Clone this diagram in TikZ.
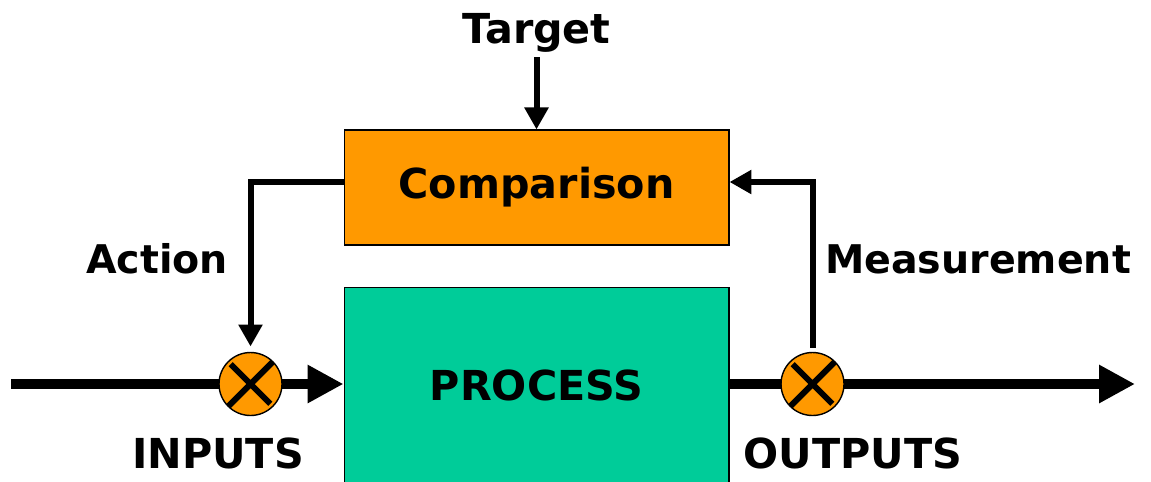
\documentclass[tikz,border=0pt]{standalone}
\usepackage{fontspec}
\setmainfont{DejaVu Sans}
\usetikzlibrary{arrows.meta}
\definecolor{cmporange}{HTML}{FF9900}
\definecolor{procgreen}{HTML}{00CC99}

\begin{document}
\begin{tikzpicture}[x=0.02cm,y=-0.02cm,
  lbl/.style={font=\fontsize{23.5}{28}\selectfont\bfseries,inner sep=0pt},
  sidelbl/.style={font=\fontsize{22.5}{27}\selectfont\bfseries,inner sep=0pt},
  blk/.style={draw,line width=0.6pt,minimum width=7.7cm,inner sep=0pt,lbl},
  sum/.style={circle,draw,line width=0.8pt,fill=cmporange,minimum size=1.26cm,inner sep=0pt,outer sep=0pt},
  thickflow/.style={line width=0.2cm},
  thinflow/.style={line width=0.12cm},
  bighead/.style={-{Triangle[length=0.72cm,width=0.72cm]}},
  smallhead/.style={-{Triangle[length=0.44cm,width=0.46cm]}}]
\useasboundingbox (0,0) rectangle (1151,481);
% blocks
\node [blk,fill=cmporange,minimum height=2.3cm] (cmp) at (536.5,187.5) {Comparison};
\node [blk,fill=procgreen,minimum height=3.92cm] (proc) at (536.5,385) {PROCESS};
% summing points
\node [sum] (sumin) at (250.5,384) {};
\node [sum] (sumout) at (812.5,384) {};
\foreach \s in {sumin,sumout}
  \draw [thinflow,shorten <=2pt,shorten >=2pt] (\s.45) -- (\s.225) (\s.135) -- (\s.315);
% labels
\node [lbl,anchor=base] (tgt) at (536.5,43) {Target};
\node [sidelbl,anchor=base] (act) at (157,273) {Action};
\node [sidelbl,anchor=base] (meas) at (978,273) {Measurement};
\node [lbl,anchor=base] (inp) at (218,468) {INPUTS};
\node [lbl,anchor=base] (outp) at (853,468) {OUTPUTS};
% main flow
\coordinate (src) at (11,384);
\coordinate (sink) at (1135,384);
\draw [thickflow] (src) -- (sumin.west);
\draw [thickflow,bighead] (sumin.east) -- (sumin.east -| proc.west);
\draw [thickflow] (sumout.west -| proc.east) -- (sumout.west);
\draw [thickflow,bighead] (sumout.east) -- (sink);
% loop
\coordinate (actcorner) at (250.5,182);
\coordinate (meascorner) at (812.5,182);
\draw [thinflow,smallhead,shorten <=0.1cm] (tgt.south) -- (cmp.north);
\draw [thinflow,smallhead,shorten >=0.12cm] (cmp.west |- actcorner) -- (actcorner) -- (sumin.north);
\draw [thinflow,smallhead,shorten <=0.1cm] (sumout.north) -- (meascorner) -- (cmp.east |- meascorner);
\end{tikzpicture}
\end{document}
